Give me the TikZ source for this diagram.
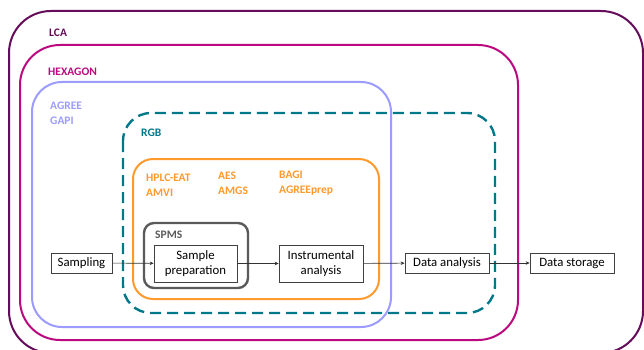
\documentclass[tikz,border=0pt]{standalone}
\usepackage{fontspec}
\setmainfont{Carlito}
\usetikzlibrary{arrows.meta}
\definecolor{lcacol}{HTML}{650D5A}
\definecolor{hexcol}{HTML}{BB0A80}
\definecolor{agreecol}{HTML}{9C9CFF}
\definecolor{rgbcol}{HTML}{00788A}
\definecolor{orgcol}{HTML}{FF9A2E}
\definecolor{spmscol}{HTML}{5A5A5A}
\begin{document}
\begin{tikzpicture}[x=1pt,y=-1pt,
  region/.style={line width=2pt},
  tag/.style={anchor=north west,inner sep=0pt,font=\fontsize{11.5}{15}\selectfont\bfseries,align=left},
  stage/.style={draw=black!75,line width=0.7pt,align=center,inner sep=1pt,
    font=\fontsize{12.8}{15}\selectfont},
  flow/.style={draw=black!80,line width=0.6pt,-{Stealth[length=4pt,width=3.5pt]}}]
\useasboundingbox (0,0) rectangle (644,350);
\fill[white] (0,0) rectangle (644,350);

% nested scopes of the assessment tools
\draw[region,lcacol,rounded corners=42pt] (9,11) rectangle (643,353);
\draw[region,hexcol,rounded corners=40pt] (20,45) rectangle (518,340);
\draw[region,agreecol,rounded corners=30pt] (32,82) rectangle (391,327);
\draw[rgbcol,line width=2.4pt,dash pattern=on 11pt off 6pt,rounded corners=28pt] (123,113) rectangle (495,313);
\draw[region,orgcol,rounded corners=20pt] (133,159) rectangle (379,299);
\draw[spmscol,line width=2.4pt,rounded corners=10pt] (144,223) rectangle (248,288);

% scope labels
\node[tag,text=lcacol] (lca) at (49,29) {LCA};
\node[tag,text=hexcol] (hex) at (48,68) {HEXAGON};
\node[tag,text=agreecol] (agree) at (50,102) {AGREE\\GAPI};
\node[tag,text=rgbcol] (rgb) at (141,129) {RGB};
\node[tag,text=orgcol] (hplc) at (146,174) {HPLC-EAT\\AMVI};
\node[tag,text=orgcol] (aes) at (218,172) {AES\\AMGS};
\node[tag,text=orgcol] (bagi) at (279,171) {BAGI\\AGREEprep};
\node[tag,text=spmscol] (spms) at (155,231) {SPMS};

% analytical workflow
\node[stage,minimum width=61pt,minimum height=20pt] (samp) at (81.5,263) {Sampling};
\node[stage,minimum width=83pt,minimum height=37pt] (prep) at (195.5,263.5) {Sample\\preparation};
\node[stage,minimum width=84pt,minimum height=37pt] (inst) at (321,263.5) {Instrumental\\analysis};
\node[stage,minimum width=84pt,minimum height=20pt] (dana) at (447,263) {Data analysis};
\node[stage,minimum width=84pt,minimum height=20pt] (dsto) at (572,263) {Data storage};

\draw[flow] (samp) -- (prep);
\draw[flow] (prep) -- (inst);
\draw[flow] (inst) -- (dana);
\draw[flow] (dana) -- (dsto);
\end{tikzpicture}
\end{document}
